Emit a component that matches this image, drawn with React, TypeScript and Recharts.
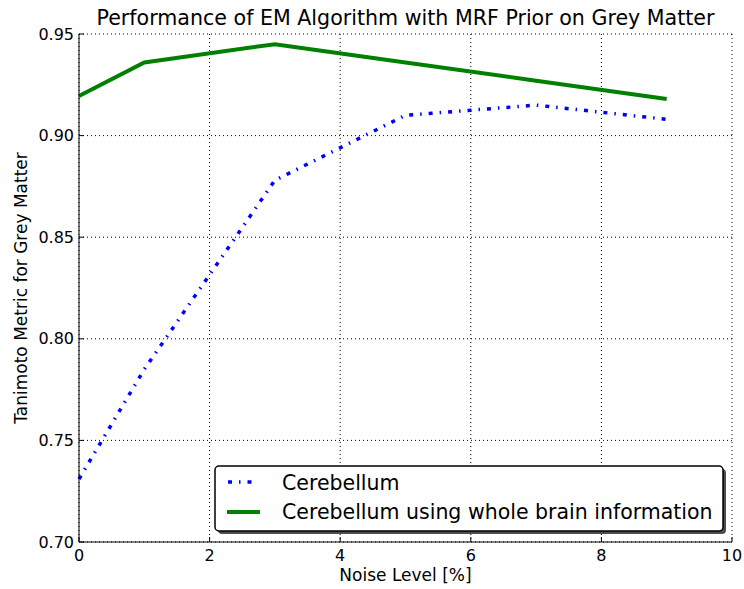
import React from "react";
import {
    LineChart,
    Line,
    XAxis,
    YAxis,
    CartesianGrid,
} from "recharts";

const noiseLevels = [0, 1, 3, 5, 7, 9];
const cerebellum = [0.731, 0.785, 0.878, 0.910, 0.915, 0.908];
const cerebellumWholeBrain = [0.9195, 0.936, 0.945, 0.936, 0.927, 0.918];
const xTicks = [0, 2, 4, 6, 8, 10];
const yTicks = [0.7, 0.75, 0.8, 0.85, 0.9, 0.95];

const seriesNames = ["Cerebellum", "Cerebellum using whole brain information"];

const chartData = noiseLevels.map((x, i) => ({
    noise: x,
    cerebellum: cerebellum[i],
    whole: cerebellumWholeBrain[i],
}));

const FONT = "'DejaVu Sans', sans-serif";
const BLUE_DASH = "4 7 1.5 7";

// legend with a drop shadow, sitting in the lower right of the plot
const LegendBox = () => (
    <svg
        width={516}
        height={72}
        style={{ position: "absolute", left: 213, top: 464 }}
    >
        <rect x={5} y={5} width={508} height={65} rx={4} fill="#4d4d4d" />
        <rect x={2} y={2} width={508} height={65} rx={4} fill="#fff" stroke="#000" strokeWidth={1.5} />
        <line x1={15} y1={18} x2={41} y2={18} stroke="#0000ff" strokeWidth={3.5} strokeDasharray={BLUE_DASH} />
        <line x1={14} y1={48} x2={47} y2={48} stroke="#008000" strokeWidth={4} />
        <text x={69} y={26} fontFamily={FONT} fontSize={20.5} fill="#000">{seriesNames[0]}</text>
        <text x={69} y={55} fontFamily={FONT} fontSize={20.5} fill="#000">{seriesNames[1]}</text>
    </svg>
);

export default function App() {
    return (
        <div style={{ position: "absolute", left: 0, top: 0, width: 744, height: 589, background: "#fff", fontFamily: FONT }}>
            <div
                style={{
                    position: "absolute",
                    left: 79,
                    width: 653,
                    top: 7,
                    textAlign: "center",
                    fontSize: 20.6,
                    lineHeight: "22px",
                    color: "#000",
                }}
            >
                Performance of EM Algorithm with MRF Prior on Grey Matter
            </div>
            <LineChart
                width={744}
                height={589}
                data={chartData}
                margin={{ top: 34, right: 12, bottom: 7, left: 19 }}
            >
                <CartesianGrid stroke="#000" strokeDasharray="1 3" strokeWidth={1} />
                <XAxis
                    dataKey="noise"
                    type="number"
                    domain={[0, 10]}
                    ticks={xTicks}
                    height={40}
                    stroke="#000"
                    tickSize={-5}
                    tickMargin={13}
                    tick={{ fill: "#000", fontSize: 16, fontFamily: FONT }}
                    label={{ value: "Noise Level [%]", position: "insideBottom", offset: 1, style: { fill: "#000", fontSize: 17, fontFamily: FONT } }}
                />
                <XAxis
                    xAxisId="top"
                    orientation="top"
                    type="number"
                    domain={[0, 10]}
                    ticks={xTicks}
                    height={0}
                    stroke="#000"
                    tickSize={-5}
                    tick={false}
                />
                <YAxis
                    type="number"
                    domain={[0.7, 0.95]}
                    ticks={yTicks}
                    width={60}
                    stroke="#000"
                    tickSize={-5}
                    tickMargin={10}
                    tickFormatter={(v: number) => v.toFixed(2)}
                    tick={{ fill: "#000", fontSize: 16, fontFamily: FONT }}
                    label={{
                        value: "Tanimoto Metric for Grey Matter",
                        angle: -90,
                        position: "insideLeft",
                        offset: 2,
                        style: { textAnchor: "middle", fill: "#000", fontSize: 17, fontFamily: FONT },
                    }}
                />
                <YAxis
                    yAxisId="right"
                    orientation="right"
                    type="number"
                    domain={[0.7, 0.95]}
                    ticks={yTicks}
                    width={0}
                    stroke="#000"
                    tickSize={-5}
                    tick={false}
                />
                <Line
                    dataKey="cerebellum"
                    name={seriesNames[0]}
                    stroke="#0000ff"
                    strokeWidth={3.5}
                    strokeDasharray={BLUE_DASH}
                    dot={false}
                    isAnimationActive={false}
                />
                <Line
                    dataKey="whole"
                    name={seriesNames[1]}
                    stroke="#008000"
                    strokeWidth={4}
                    dot={false}
                    isAnimationActive={false}
                />
            </LineChart>
            <LegendBox />
        </div>
    );
}
